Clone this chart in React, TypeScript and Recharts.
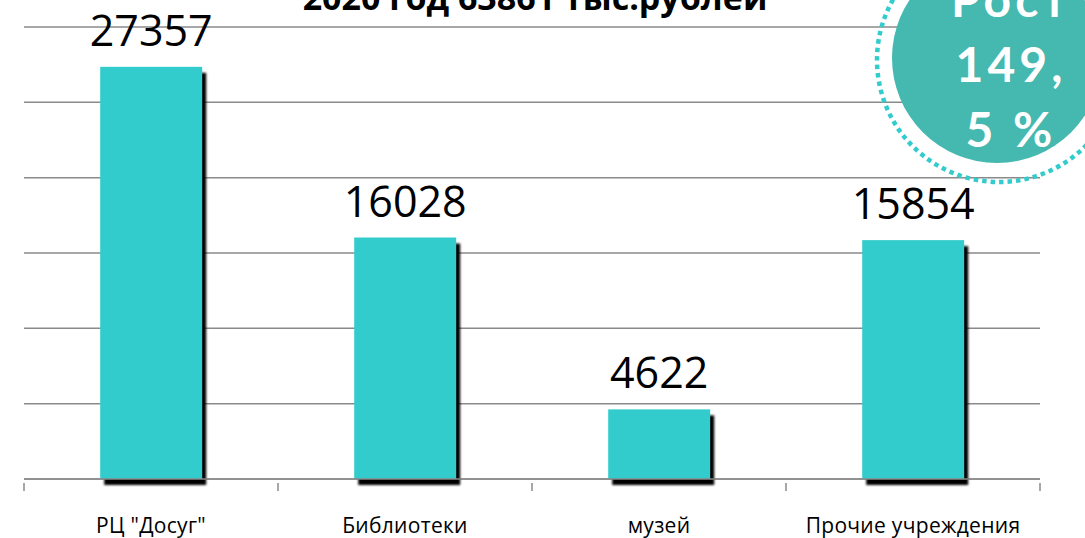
import React from 'react';
import { BarChart, Bar, XAxis, YAxis, CartesianGrid, LabelList } from 'recharts';

// категории и суммы (тыс. рублей)
const categories = ['РЦ "Досуг"', 'Библиотеки', 'музей', 'Прочие учреждения'];
const amounts = [27357, 16028, 4622, 15854];
const yTicks = [0, 5000, 10000, 15000, 20000, 25000, 30000];

const titleText = '2020 год 63861 тыс.рублей';
const badgeLines = ['Рост', '149,', '5 %'];

const W = 1085;
const H = 538;
const margin = { top: 27, right: 45, bottom: 29, left: 24 };
const band = (W - margin.left - margin.right) / categories.length;

const data = categories.map((name, i) => ({ name, value: amounts[i] }));

const ShadowBar = (props: any) => {
  const { x, y, width, height } = props;
  return (
    <g>
      <rect x={x + 4} y={y + 6} width={width} height={height} fill="#000" filter="url(#barBlur)" />
      <rect x={x} y={y} width={width} height={height} fill="#33CCCC" />
    </g>
  );
};

const CategoryTick = (props: any) => {
  const { x, y, payload, index } = props;
  const left = x - band / 2;
  return (
    <g>
      <line x1={left} y1={y - 4} x2={left} y2={y + 4} stroke="#8a8a8a" strokeWidth={1.5} />
      {index === categories.length - 1 && (
        <line x1={x + band / 2} y1={y - 4} x2={x + band / 2} y2={y + 4} stroke="#8a8a8a" strokeWidth={1.5} />
      )}
      <text
        x={x}
        y={y + 46}
        textAnchor="middle"
        fontFamily="'Open Sans', sans-serif"
        fontSize={21}
        letterSpacing={0.3}
        fill="#000"
      >
        {payload.value}
      </text>
    </g>
  );
};

export default function App() {
  return (
    <div style={{ position: 'absolute', left: 0, top: 0, width: W, height: H, background: '#fff' }}>
      <BarChart width={W} height={H} data={data} margin={margin} barCategoryGap="30%">
        <CartesianGrid vertical={false} stroke="#8a8a8a" strokeWidth={1.5} />
        <YAxis hide domain={[0, 30000]} ticks={yTicks} />
        <XAxis
          dataKey="name"
          height={30}
          axisLine={{ stroke: '#8a8a8a', strokeWidth: 1.5 }}
          tickLine={false}
          tick={<CategoryTick />}
          interval={0}
        />
        <Bar dataKey="value" shape={<ShadowBar />} isAnimationActive={false}>
          <LabelList
            dataKey="value"
            position="top"
            offset={21}
            fill="#000"
            fontSize={43}
            fontFamily="'Open Sans', sans-serif"
          />
        </Bar>
      </BarChart>
      <svg width={W} height={H} style={{ position: 'absolute', left: 0, top: 0, pointerEvents: 'none' }}>
        <defs>
          <filter id="barBlur" x="-10%" y="-10%" width="120%" height="120%">
            <feGaussianBlur stdDeviation="0.8" />
          </filter>
        </defs>
        <text x={535} y={10} textAnchor="middle" fontFamily="'Open Sans', sans-serif" fontWeight="bold" fontSize={34} fill="#000">
          {titleText}
        </text>
        <circle cx={999} cy={60} r={122} fill="none" stroke="#33CCCC" strokeWidth={4.5} strokeDasharray="4.5 4" />
        <circle cx={997} cy={58} r={105} fill="#45B8B0" />
        {badgeLines.map((line, i) => (
          <text
            key={line}
            x={1011}
            y={17 + i * 65}
            textAnchor="middle"
            fontFamily="Lato, sans-serif"
            fontWeight="bold"
            fontSize={48}
            letterSpacing={4}
            fill="#fff"
          >
            {line}
          </text>
        ))}
      </svg>
    </div>
  );
}
